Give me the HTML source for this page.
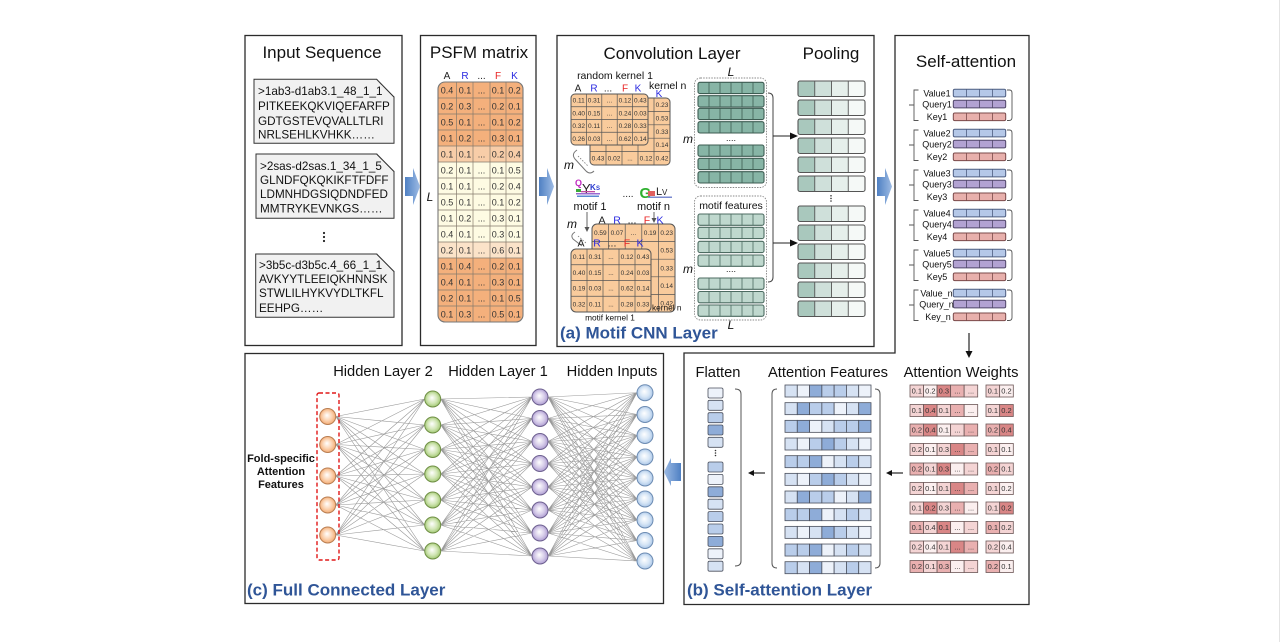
<!DOCTYPE html>
<html><head><meta charset="utf-8"><title>diagram</title>
<style>
html,body{margin:0;padding:0;background:#fff;width:1282px;height:642px;overflow:hidden}
svg{display:block}
text{font-family:"Liberation Sans",Arial,sans-serif}
.p0{fill:#fbefef}.p1{fill:#f4d4d4}.p2{fill:#e9b0b0}.p3{fill:#d98686}
.b0{fill:#edf2fa}.b1{fill:#d6e2f3}.b2{fill:#b9cdea}.b3{fill:#8eacd8}
.aw rect{stroke:#6b5656;stroke-width:0.8}
.af rect{stroke:#4a4f5c;stroke-width:0.8}
</style>
</head><body>
<svg xmlns="http://www.w3.org/2000/svg" xmlns:xlink="http://www.w3.org/1999/xlink" width="1282" height="642" viewBox="0 0 1282 642">
<defs>
<linearGradient id="ag" x1="0" y1="0" x2="1" y2="0"><stop offset="0" stop-color="#4f80c3"/><stop offset="1" stop-color="#9dbbe4"/></linearGradient>
<linearGradient id="agl" x1="1" y1="0" x2="0" y2="0"><stop offset="0" stop-color="#4f80c3"/><stop offset="1" stop-color="#9dbbe4"/></linearGradient>
<radialGradient id="go" cx="50%" cy="50%" r="55%" fx="45%" fy="42%"><stop offset="0" stop-color="#ffffff"/><stop offset="0.55" stop-color="#fbd2b0"/><stop offset="1" stop-color="#f2a468"/></radialGradient>
<radialGradient id="gg" cx="50%" cy="50%" r="55%" fx="45%" fy="42%"><stop offset="0" stop-color="#ffffff"/><stop offset="0.55" stop-color="#d2e6b6"/><stop offset="1" stop-color="#98c265"/></radialGradient>
<radialGradient id="gp" cx="50%" cy="50%" r="55%" fx="45%" fy="42%"><stop offset="0" stop-color="#ffffff"/><stop offset="0.55" stop-color="#d6cce9"/><stop offset="1" stop-color="#a693cd"/></radialGradient>
<radialGradient id="gb" cx="50%" cy="50%" r="55%" fx="45%" fy="42%"><stop offset="0" stop-color="#ffffff"/><stop offset="0.55" stop-color="#d7e6f6"/><stop offset="1" stop-color="#a3c1e5"/></radialGradient>
<clipPath id="pc"><rect x="438" y="82" width="85" height="240" rx="7"/></clipPath>
<g id="tr1"><rect width="66" height="11.3" rx="2" fill="#87b5a6"/><path d="M11 0V11.3M22 0V11.3M33 0V11.3M44 0V11.3M55 0V11.3" stroke="#3d5c52" stroke-width="0.8"/><rect width="66" height="11.3" rx="2" fill="none" stroke="#3d5c52" stroke-width="1.1"/></g>
<g id="tr2"><rect width="66" height="11.3" rx="2" fill="#bfd8ce"/><path d="M11 0V11.3M22 0V11.3M33 0V11.3M44 0V11.3M55 0V11.3" stroke="#4c6b61" stroke-width="0.8"/><rect width="66" height="11.3" rx="2" fill="none" stroke="#4c6b61" stroke-width="1.1"/></g>
<g id="pr"><rect x="0" width="16.75" height="15.5" fill="#a9c8bd"/><rect x="16.75" width="16.75" height="15.5" fill="#cfe0da"/><rect x="33.5" width="16.75" height="15.5" fill="#e6efeb"/><rect x="50.25" width="16.75" height="15.5" fill="#f5f9f7"/><path d="M16.75 0V15.5M33.5 0V15.5M50.25 0V15.5" stroke="#555" stroke-width="0.9"/><rect width="67" height="15.5" rx="2" fill="none" stroke="#555" stroke-width="1.1"/></g>
<g id="sag">
<rect x="953.3" y="89.3" width="52.4" height="7.6" rx="1.5" fill="#b5c8e8" stroke="#4d5d80" stroke-width="1"/>
<path d="M966.4 89.3V96.9M979.5 89.3V96.9M992.6 89.3V96.9" stroke="#4d5d80" stroke-width="0.8"/>
<rect x="953.3" y="100.3" width="52.4" height="7.6" rx="1.5" fill="#b2a2d2" stroke="#4f4568" stroke-width="1"/>
<path d="M966.4 100.3V107.9M979.5 100.3V107.9M992.6 100.3V107.9" stroke="#4f4568" stroke-width="0.8"/>
<rect x="953.3" y="113" width="52.4" height="7.6" rx="1.5" fill="#e8b0ac" stroke="#7a4a4a" stroke-width="1"/>
<path d="M966.4 113V120.6M979.5 113V120.6M992.6 113V120.6" stroke="#7a4a4a" stroke-width="0.8"/>
<path d="M918.5,90 H914 V120.5 H918.5 M914,105 H909" fill="none" stroke="#555" stroke-width="0.9"/>
<path d="M1007,90 H1009.5 Q1012,90 1012,93 V117.5 Q1012,120.5 1009,120.5 H1007" fill="none" stroke="#555" stroke-width="0.9"/>
</g>
</defs>
<rect width="1282" height="642" fill="#fff"/>
<line x1="1279.5" y1="0" x2="1279.5" y2="642" stroke="#e4e4e4"/>

<!-- frames -->
<g fill="none" stroke="#2b2b2b" stroke-width="1.3">
<rect x="245" y="35.5" width="157" height="310"/>
<rect x="420.5" y="35.5" width="115.5" height="310"/>
<rect x="557" y="35.5" width="317" height="311"/>
<path d="M684,353 H895 V35.5 H1029 V604.5 H684 Z"/>
<rect x="245" y="353.5" width="418.5" height="250"/>
</g>

<!-- block arrows -->
<path d="M405,177 H413 V168 L420,186.5 L413,205 V196 H405 Z" fill="url(#ag)"/>
<path d="M539,177 H547 V168 L554,186.5 L547,205 V196 H539 Z" fill="url(#ag)"/>
<path d="M877,177 H885 V168 L892,186.5 L885,205 V196 H877 Z" fill="url(#ag)"/>
<path d="M681,463 H671 V458 L664,472 L671,486 V481 H681 Z" fill="url(#agl)"/>

<!-- titles -->
<g font-size="17" fill="#111" text-anchor="middle">
<text x="322" y="58">Input Sequence</text>
<text x="479" y="58">PSFM matrix</text>
<text x="672" y="59">Convolution Layer</text>
<text x="831" y="59">Pooling</text>
<text x="966" y="67">Self-attention</text>
</g>
<g font-size="14.7" fill="#111" text-anchor="middle">
<text x="961" y="377">Attention Weights</text>
<text x="828" y="377">Attention Features</text>
<text x="718" y="377">Flatten</text>
<text x="383" y="376">Hidden Layer 2</text>
<text x="498" y="376">Hidden Layer 1</text>
<text x="612" y="376">Hidden Inputs</text>
</g>
<g font-size="17" font-weight="bold" fill="#2f5597">
<text x="560" y="338.5">(a) Motif CNN Layer</text>
<text x="687" y="595.5">(b) Self-attention Layer</text>
<text x="247" y="595.5">(c) Full Connected Layer</text>
</g>

<!-- Input sequences -->
<g stroke="#333" stroke-width="1" fill="#f1f1f1">
<path d="M254,79.3 H376.7 L394,97 V143.3 H254 Z"/>
<path d="M256,154 H376.7 L394,171.5 V218.3 H256 Z"/>
<path d="M255.7,254 H376.7 L394,271.5 V317.3 H255.7 Z"/>
</g>
<g font-size="11.7" fill="#111">
<text x="258" y="95">&gt;1ab3-d1ab3.1_48_1_1</text>
<text x="258" y="110">PITKEEKQKVIQEFARFP</text>
<text x="258" y="125">GDTGSTEVQVALLTLRI</text>
<text x="258" y="138.5">NRLSEHLKVHKK……</text>
<text x="260" y="170">&gt;2sas-d2sas.1_34_1_5</text>
<text x="260" y="184">GLNDFQKQKIKFTFDFF</text>
<text x="260" y="198">LDMNHDGSIQDNDFED</text>
<text x="260" y="212.5">MMTRYKEVNKGS……</text>
<text x="259" y="269">&gt;3b5c-d3b5c.4_66_1_1</text>
<text x="259" y="283">AVKYYTLEEIQKHNNSK</text>
<text x="259" y="297">STWLILHYKVYDLTKFL</text>
<text x="259" y="312">EEHPG……</text>
</g>
<g fill="#fff" stroke="#333" stroke-width="1">
<path d="M376.7,79.3 L394,97 L394,79.3 Z" stroke="none"/>
<path d="M376.7,79.3 L394,97"/>
<path d="M376.7,154 L394,171.5 L394,154 Z" stroke="none"/>
<path d="M376.7,154 L394,171.5"/>
<path d="M376.7,254 L394,271.5 L394,254 Z" stroke="none"/>
<path d="M376.7,254 L394,271.5"/>
</g>
<g fill="#222"><circle cx="324" cy="233" r="1.1"/><circle cx="324" cy="237" r="1.1"/><circle cx="324" cy="241" r="1.1"/></g>

<!-- PSFM -->
<g font-size="10" text-anchor="middle">
<text x="447" y="79" fill="#222">A</text>
<text x="465" y="79" fill="#2a2ae0">R</text>
<text x="481.5" y="79" fill="#222">...</text>
<text x="498" y="79" fill="#e82424">F</text>
<text x="514.5" y="79" fill="#2a2ae0">K</text>
</g>
<text x="430" y="201" font-size="12" font-style="italic" text-anchor="middle" fill="#111">L</text>
<g clip-path="url(#pc)">
<rect x="438" y="82" width="85" height="64" fill="#f4b07c"/>
<rect x="438" y="146" width="85" height="16" fill="#f8cda8"/>
<rect x="438" y="162" width="85" height="80" fill="#fefbe3"/>
<rect x="438" y="242" width="85" height="16" fill="#fbe3c9"/>
<rect x="438" y="258" width="85" height="64" fill="#f4b07c"/>
</g>
<path d="M438 98H523M438 114H523M438 130H523M438 146H523M438 162H523M438 178H523M438 194H523M438 210H523M438 226H523M438 242H523M438 258H523M438 274H523M438 290H523M438 306H523M456.5 82V322M473 82V322M490 82V322M506 82V322" stroke="#857a6c" stroke-width="0.7" fill="none"/>
<rect x="438" y="82" width="85" height="240" rx="7" fill="none" stroke="#777" stroke-width="1.1"/>
<g font-size="9" fill="#333" text-anchor="middle">
<g transform="translate(0,93.5)"><text x="447">0.4</text><text x="465">0.1</text><text x="481.5">...</text><text x="498">0.1</text><text x="514.5">0.2</text></g>
<g transform="translate(0,109.5)"><text x="447">0.2</text><text x="465">0.3</text><text x="481.5">...</text><text x="498">0.2</text><text x="514.5">0.1</text></g>
<g transform="translate(0,125.5)"><text x="447">0.5</text><text x="465">0.1</text><text x="481.5">...</text><text x="498">0.1</text><text x="514.5">0.2</text></g>
<g transform="translate(0,141.5)"><text x="447">0.1</text><text x="465">0.2</text><text x="481.5">...</text><text x="498">0.3</text><text x="514.5">0.1</text></g>
<g transform="translate(0,157.5)"><text x="447">0.1</text><text x="465">0.1</text><text x="481.5">...</text><text x="498">0.2</text><text x="514.5">0.4</text></g>
<g transform="translate(0,173.5)"><text x="447">0.2</text><text x="465">0.1</text><text x="481.5">...</text><text x="498">0.1</text><text x="514.5">0.5</text></g>
<g transform="translate(0,189.5)"><text x="447">0.1</text><text x="465">0.1</text><text x="481.5">...</text><text x="498">0.2</text><text x="514.5">0.4</text></g>
<g transform="translate(0,205.5)"><text x="447">0.5</text><text x="465">0.1</text><text x="481.5">...</text><text x="498">0.1</text><text x="514.5">0.2</text></g>
<g transform="translate(0,221.5)"><text x="447">0.1</text><text x="465">0.2</text><text x="481.5">...</text><text x="498">0.3</text><text x="514.5">0.1</text></g>
<g transform="translate(0,237.5)"><text x="447">0.4</text><text x="465">0.1</text><text x="481.5">...</text><text x="498">0.3</text><text x="514.5">0.1</text></g>
<g transform="translate(0,253.5)"><text x="447">0.2</text><text x="465">0.1</text><text x="481.5">...</text><text x="498">0.6</text><text x="514.5">0.1</text></g>
<g transform="translate(0,269.5)"><text x="447">0.1</text><text x="465">0.4</text><text x="481.5">...</text><text x="498">0.2</text><text x="514.5">0.1</text></g>
<g transform="translate(0,285.5)"><text x="447">0.4</text><text x="465">0.1</text><text x="481.5">...</text><text x="498">0.3</text><text x="514.5">0.1</text></g>
<g transform="translate(0,301.5)"><text x="447">0.2</text><text x="465">0.1</text><text x="481.5">...</text><text x="498">0.1</text><text x="514.5">0.5</text></g>
<g transform="translate(0,317.5)"><text x="447">0.1</text><text x="465">0.3</text><text x="481.5">...</text><text x="498">0.5</text><text x="514.5">0.1</text></g>
</g>

<!-- Convolution: random kernels -->
<text x="615" y="79" font-size="10.5" text-anchor="middle" fill="#111">random kernel 1</text>
<text x="649" y="89" font-size="10.5" fill="#111">kernel n</text>
<g font-size="10" text-anchor="middle">
<text x="578" y="91.5" fill="#222">A</text>
<text x="594" y="91.5" fill="#2a2ae0">R</text>
<text x="608" y="91.5" fill="#222">...</text>
<text x="625" y="91.5" fill="#e82424">F</text>
<text x="638" y="91.5" fill="#2a2ae0">K</text>
<text x="659" y="97" fill="#2a2ae0">K</text>
</g>
<!-- back random kernel -->
<rect x="590" y="98" width="80" height="67" rx="4" fill="#f9cb9c"/>
<path d="M590 111.4H670M590 124.8H670M590 138.2H670M590 151.6H670M606 98V165M622 98V165M638 98V165M654 98V165" stroke="#555" stroke-width="0.7"/>
<rect x="590" y="98" width="80" height="67" rx="4" fill="none" stroke="#555" stroke-width="1"/>
<g font-size="6.5" fill="#333" text-anchor="middle">
<text x="662" y="107">0.23</text><text x="662" y="120.4">0.53</text><text x="662" y="133.8">0.33</text><text x="662" y="147.2">0.14</text><text x="662" y="160.6">0.42</text>
<text x="598" y="160.6">0.43</text><text x="614" y="160.6">0.02</text><text x="630" y="160.6">...</text><text x="646" y="160.6">0.12</text>
</g>
<!-- front random kernel -->
<rect x="571" y="94" width="77" height="51" rx="4" fill="#f9cb9c"/>
<path d="M571 106.75H648M571 119.5H648M571 132.25H648M586.4 94V145M601.8 94V145M617.2 94V145M632.6 94V145" stroke="#555" stroke-width="0.7"/>
<rect x="571" y="94" width="77" height="51" rx="4" fill="none" stroke="#555" stroke-width="1"/>
<g font-size="6.5" fill="#333" text-anchor="middle">
<g transform="translate(0,102.7)"><text x="578.7">0.11</text><text x="594.1">0.31</text><text x="609.5">...</text><text x="624.9">0.12</text><text x="640.3">0.43</text></g>
<g transform="translate(0,115.4)"><text x="578.7">0.40</text><text x="594.1">0.15</text><text x="609.5">...</text><text x="624.9">0.24</text><text x="640.3">0.03</text></g>
<g transform="translate(0,128.2)"><text x="578.7">0.32</text><text x="594.1">0.11</text><text x="609.5">...</text><text x="624.9">0.28</text><text x="640.3">0.33</text></g>
<g transform="translate(0,140.9)"><text x="578.7">0.26</text><text x="594.1">0.03</text><text x="609.5">...</text><text x="624.9">0.62</text><text x="640.3">0.14</text></g>
</g>
<path d="M577,150 Q571,154 575,159 L586,171 Q590,175 594,171" fill="none" stroke="#777" stroke-width="1"/>
<path d="M578,156 L588,166" stroke="#777" stroke-width="0.8" stroke-dasharray="1.5,1.5"/>
<text x="569" y="169" font-size="12" font-style="italic" text-anchor="middle" fill="#111">m</text>

<!-- motif logos -->
<text x="575" y="186" font-size="9" font-weight="bold" fill="#c02ac0">Q</text>
<text x="582" y="193" font-size="13" fill="#222">Y</text>
<text x="590" y="190" font-size="8" font-weight="bold" fill="#2a3ad0">K</text>
<text x="596" y="190" font-size="6" font-weight="bold" fill="#2a3ad0">S</text>
<rect x="576" y="189" width="5" height="3" fill="#3aa83a"/>
<rect x="576" y="193" width="24" height="1.5" fill="#9a6ad0"/>
<rect x="577" y="195.5" width="22" height="1.5" fill="#5a8ad0"/>
<rect x="581" y="191" width="14" height="1.3" fill="#c04aa0"/>
<text x="628" y="197" font-size="10" text-anchor="middle" fill="#222">....</text>
<text x="639.5" y="198" font-size="15" font-weight="bold" fill="#2fb02f">G</text>
<rect x="648" y="191" width="7" height="5" fill="#e06060"/>
<text x="656" y="195" font-size="11" fill="#222">L</text>
<text x="662" y="195" font-size="8" fill="#222">V</text>
<rect x="648" y="196.5" width="24" height="1.5" fill="#7a8ad0"/>
<text x="590" y="210" font-size="11" text-anchor="middle" fill="#111">motif 1</text>
<text x="653.5" y="210" font-size="11" text-anchor="middle" fill="#111">motif n</text>
<g stroke="#555" stroke-width="0.9" fill="#555">
<line x1="587" y1="212" x2="587" y2="228"/>
<polygon points="584.5,227 589.5,227 587,232" stroke="none"/>
<line x1="654" y1="212" x2="654" y2="219"/>
<polygon points="651.5,218 656.5,218 654,223" stroke="none"/>
</g>
<text x="572" y="228" font-size="12" font-style="italic" text-anchor="middle" fill="#111">m</text>
<path d="M575,232 Q570,235 573,239 L582,246" fill="none" stroke="#777" stroke-width="1"/>
<path d="M578,236 L586,243" stroke="#777" stroke-width="0.8" stroke-dasharray="1.5,1.5"/>
<g font-size="10.5" text-anchor="middle">
<text x="602" y="223.5" fill="#222">A</text>
<text x="617" y="223.5" fill="#2a2ae0">R</text>
<text x="632" y="223.5" fill="#222">...</text>
<text x="647" y="223.5" fill="#e82424">F</text>
<text x="660" y="223.5" fill="#2a2ae0">K</text>
</g>
<!-- back motif kernel -->
<rect x="592" y="224" width="83" height="88" rx="5" fill="#f9cb9c"/>
<path d="M592 241.6H675M592 259.2H675M592 276.8H675M592 294.4H675M608.6 224V312M625.2 224V312M641.8 224V312M658.4 224V312" stroke="#555" stroke-width="0.7"/>
<rect x="592" y="224" width="83" height="88" rx="5" fill="none" stroke="#555" stroke-width="1"/>
<g font-size="6.5" fill="#333" text-anchor="middle">
<text x="600.3" y="235">0.59</text><text x="616.9" y="235">0.07</text><text x="633.5" y="235">...</text><text x="650.1" y="235">0.19</text><text x="666.7" y="235">0.23</text>
<text x="666.7" y="252.7">0.53</text><text x="666.7" y="270.3">0.33</text><text x="666.7" y="287.9">0.14</text><text x="666.7" y="305.5">0.42</text>
</g>
<g font-size="10.5" text-anchor="middle">
<text x="581" y="246.5" fill="#222">A</text>
<text x="597" y="246.5" fill="#2a2ae0">R</text>
<text x="612" y="246.5" fill="#222">...</text>
<text x="627" y="246.5" fill="#e82424">F</text>
<text x="640" y="246.5" fill="#2a2ae0">K</text>
</g>
<!-- front motif kernel -->
<rect x="571" y="249" width="80" height="63" rx="5" fill="#f9cb9c"/>
<path d="M571 264.75H651M571 280.5H651M571 296.25H651M587 249V312M603 249V312M619 249V312M635 249V312" stroke="#555" stroke-width="0.7"/>
<rect x="571" y="249" width="80" height="63" rx="5" fill="none" stroke="#555" stroke-width="1"/>
<g font-size="6.5" fill="#333" text-anchor="middle">
<g transform="translate(0,259.2)"><text x="579">0.11</text><text x="595">0.31</text><text x="611">...</text><text x="627">0.12</text><text x="643">0.43</text></g>
<g transform="translate(0,274.9)"><text x="579">0.40</text><text x="595">0.15</text><text x="611">...</text><text x="627">0.24</text><text x="643">0.03</text></g>
<g transform="translate(0,290.7)"><text x="579">0.19</text><text x="595">0.03</text><text x="611">...</text><text x="627">0.62</text><text x="643">0.14</text></g>
<g transform="translate(0,306.4)"><text x="579">0.32</text><text x="595">0.11</text><text x="611">...</text><text x="627">0.28</text><text x="643">0.33</text></g>
</g>
<text x="610" y="320.5" font-size="8.3" text-anchor="middle" fill="#111">motif kernel 1</text>
<text x="652" y="310.5" font-size="8.3" fill="#111">kernel n</text>

<!-- feature maps -->
<rect x="694.5" y="78" width="72" height="109.5" rx="6" fill="none" stroke="#888" stroke-width="0.9" stroke-dasharray="1.5,1.2"/>
<rect x="694.5" y="196" width="72" height="124" rx="6" fill="none" stroke="#888" stroke-width="0.9" stroke-dasharray="1.5,1.2"/>
<use href="#tr1" xlink:href="#tr1" x="698" y="82.3"/>
<use href="#tr1" xlink:href="#tr1" x="698" y="95.7"/>
<use href="#tr1" xlink:href="#tr1" x="698" y="108.3"/>
<use href="#tr1" xlink:href="#tr1" x="698" y="121.7"/>
<use href="#tr1" xlink:href="#tr1" x="698" y="145"/>
<use href="#tr1" xlink:href="#tr1" x="698" y="158.3"/>
<use href="#tr1" xlink:href="#tr1" x="698" y="171.7"/>
<use href="#tr2" xlink:href="#tr2" x="698" y="214"/>
<use href="#tr2" xlink:href="#tr2" x="698" y="227.3"/>
<use href="#tr2" xlink:href="#tr2" x="698" y="241.3"/>
<use href="#tr2" xlink:href="#tr2" x="698" y="255"/>
<use href="#tr2" xlink:href="#tr2" x="698" y="278"/>
<use href="#tr2" xlink:href="#tr2" x="698" y="291.5"/>
<use href="#tr2" xlink:href="#tr2" x="698" y="305"/>
<g font-size="12" font-style="italic" fill="#111" text-anchor="middle">
<text x="731" y="76">L</text>
<text x="731" y="329">L</text>
<text x="688" y="143">m</text>
<text x="688" y="273">m</text>
</g>
<text x="731" y="209" font-size="10.5" text-anchor="middle" fill="#111">motif  features</text>
<text x="731" y="141" font-size="9" text-anchor="middle" fill="#222">....</text>
<text x="731" y="272" font-size="9" text-anchor="middle" fill="#222">....</text>
<path d="M768,93 Q773,93 773,98 V277 Q773,282 768,282" fill="none" stroke="#444" stroke-width="1"/>
<g stroke="#222" stroke-width="1" fill="#111">
<line x1="773" y1="136" x2="791" y2="136"/><polygon points="798,136 790,132.5 790,139.5" stroke="none"/>
<line x1="773" y1="243" x2="791" y2="243"/><polygon points="798,243 790,239.5 790,246.5" stroke="none"/>
</g>
<!-- pooling -->
<use href="#pr" xlink:href="#pr" x="798" y="81"/>
<use href="#pr" xlink:href="#pr" x="798" y="100"/>
<use href="#pr" xlink:href="#pr" x="798" y="119"/>
<use href="#pr" xlink:href="#pr" x="798" y="138"/>
<use href="#pr" xlink:href="#pr" x="798" y="157"/>
<use href="#pr" xlink:href="#pr" x="798" y="176"/>
<use href="#pr" xlink:href="#pr" x="798" y="206"/>
<use href="#pr" xlink:href="#pr" x="798" y="225"/>
<use href="#pr" xlink:href="#pr" x="798" y="244"/>
<use href="#pr" xlink:href="#pr" x="798" y="263"/>
<use href="#pr" xlink:href="#pr" x="798" y="282"/>
<use href="#pr" xlink:href="#pr" x="798" y="301"/>
<g fill="#333"><circle cx="831" cy="195.8" r="0.8"/><circle cx="831" cy="198.4" r="0.8"/><circle cx="831" cy="201" r="0.8"/></g>

<!-- Self attention -->
<use href="#sag" xlink:href="#sag" x="0" y="0"/>
<use href="#sag" xlink:href="#sag" x="0" y="40"/>
<use href="#sag" xlink:href="#sag" x="0" y="80"/>
<use href="#sag" xlink:href="#sag" x="0" y="120"/>
<use href="#sag" xlink:href="#sag" x="0" y="160"/>
<use href="#sag" xlink:href="#sag" x="0" y="200"/>
<g font-size="9" fill="#111" text-anchor="middle">
<text x="937" y="96.3">Value1</text><text x="937" y="107.3">Query1</text><text x="937" y="120">Key1</text>
<text x="937" y="136.3">Value2</text><text x="937" y="147.3">Query2</text><text x="937" y="160">Key2</text>
<text x="937" y="176.3">Value3</text><text x="937" y="187.3">Query3</text><text x="937" y="200">Key3</text>
<text x="937" y="216.3">Value4</text><text x="937" y="227.3">Query4</text><text x="937" y="240">Key4</text>
<text x="937" y="256.3">Value5</text><text x="937" y="267.3">Query5</text><text x="937" y="280">Key5</text>
<text x="936.5" y="296.3">Value_n</text><text x="936.5" y="307.3">Query_n</text><text x="938" y="320">Key_n</text>
</g>
<g stroke="#111" stroke-width="1.1" fill="#111">
<line x1="969" y1="333" x2="969" y2="352"/><polygon points="965.5,351 972.5,351 969,358" stroke="none"/>
<line x1="903" y1="473" x2="891" y2="473"/><polygon points="886,473 892,470 892,476" stroke="none"/>
<line x1="765" y1="473" x2="753" y2="473"/><polygon points="748,473 754,470 754,476" stroke="none"/>
</g>

<!-- Attention weights cells -->
<g class="aw">
<g transform="translate(0,385)"><rect x="910" width="13.54" height="12" class="p1"/><rect x="923.54" width="13.54" height="12" class="p0"/><rect x="937.08" width="13.54" height="12" class="p3"/><rect x="950.62" width="13.54" height="12" class="p2"/><rect x="964.16" width="13.54" height="12" class="p1"/><rect x="986" width="13.65" height="12" class="p1"/><rect x="999.65" width="13.65" height="12" class="p0"/></g>
<g transform="translate(0,404.5)"><rect x="910" width="13.54" height="12" class="p1"/><rect x="923.54" width="13.54" height="12" class="p3"/><rect x="937.08" width="13.54" height="12" class="p1"/><rect x="950.62" width="13.54" height="12" class="p2"/><rect x="964.16" width="13.54" height="12" class="p0"/><rect x="986" width="13.65" height="12" class="p1"/><rect x="999.65" width="13.65" height="12" class="p3"/></g>
<g transform="translate(0,424)"><rect x="910" width="13.54" height="12" class="p2"/><rect x="923.54" width="13.54" height="12" class="p3"/><rect x="937.08" width="13.54" height="12" class="p0"/><rect x="950.62" width="13.54" height="12" class="p1"/><rect x="964.16" width="13.54" height="12" class="p2"/><rect x="986" width="13.65" height="12" class="p2"/><rect x="999.65" width="13.65" height="12" class="p3"/></g>
<g transform="translate(0,443.5)"><rect x="910" width="13.54" height="12" class="p1"/><rect x="923.54" width="13.54" height="12" class="p0"/><rect x="937.08" width="13.54" height="12" class="p1"/><rect x="950.62" width="13.54" height="12" class="p3"/><rect x="964.16" width="13.54" height="12" class="p2"/><rect x="986" width="13.65" height="12" class="p1"/><rect x="999.65" width="13.65" height="12" class="p0"/></g>
<g transform="translate(0,463)"><rect x="910" width="13.54" height="12" class="p2"/><rect x="923.54" width="13.54" height="12" class="p1"/><rect x="937.08" width="13.54" height="12" class="p3"/><rect x="950.62" width="13.54" height="12" class="p0"/><rect x="964.16" width="13.54" height="12" class="p1"/><rect x="986" width="13.65" height="12" class="p2"/><rect x="999.65" width="13.65" height="12" class="p1"/></g>
<g transform="translate(0,482.5)"><rect x="910" width="13.54" height="12" class="p1"/><rect x="923.54" width="13.54" height="12" class="p0"/><rect x="937.08" width="13.54" height="12" class="p1"/><rect x="950.62" width="13.54" height="12" class="p3"/><rect x="964.16" width="13.54" height="12" class="p2"/><rect x="986" width="13.65" height="12" class="p1"/><rect x="999.65" width="13.65" height="12" class="p0"/></g>
<g transform="translate(0,502)"><rect x="910" width="13.54" height="12" class="p1"/><rect x="923.54" width="13.54" height="12" class="p3"/><rect x="937.08" width="13.54" height="12" class="p1"/><rect x="950.62" width="13.54" height="12" class="p2"/><rect x="964.16" width="13.54" height="12" class="p0"/><rect x="986" width="13.65" height="12" class="p1"/><rect x="999.65" width="13.65" height="12" class="p3"/></g>
<g transform="translate(0,521.5)"><rect x="910" width="13.54" height="12" class="p2"/><rect x="923.54" width="13.54" height="12" class="p1"/><rect x="937.08" width="13.54" height="12" class="p3"/><rect x="950.62" width="13.54" height="12" class="p0"/><rect x="964.16" width="13.54" height="12" class="p1"/><rect x="986" width="13.65" height="12" class="p2"/><rect x="999.65" width="13.65" height="12" class="p1"/></g>
<g transform="translate(0,541)"><rect x="910" width="13.54" height="12" class="p1"/><rect x="923.54" width="13.54" height="12" class="p0"/><rect x="937.08" width="13.54" height="12" class="p1"/><rect x="950.62" width="13.54" height="12" class="p3"/><rect x="964.16" width="13.54" height="12" class="p2"/><rect x="986" width="13.65" height="12" class="p1"/><rect x="999.65" width="13.65" height="12" class="p0"/></g>
<g transform="translate(0,560.5)"><rect x="910" width="13.54" height="12" class="p2"/><rect x="923.54" width="13.54" height="12" class="p1"/><rect x="937.08" width="13.54" height="12" class="p2"/><rect x="950.62" width="13.54" height="12" class="p0"/><rect x="964.16" width="13.54" height="12" class="p1"/><rect x="986" width="13.65" height="12" class="p2"/><rect x="999.65" width="13.65" height="12" class="p0"/></g>
</g>
<g font-size="7.5" fill="#333" text-anchor="middle">
<g transform="translate(0,393.7)"><text x="916.8">0.1</text><text x="930.3">0.2</text><text x="943.9">0.3</text><text x="957.4">...</text><text x="971">...</text><text x="992.8">0.1</text><text x="1006.5">0.2</text></g>
<g transform="translate(0,413.2)"><text x="916.8">0.1</text><text x="930.3">0.4</text><text x="943.9">0.1</text><text x="957.4">...</text><text x="971">...</text><text x="992.8">0.1</text><text x="1006.5">0.2</text></g>
<g transform="translate(0,432.7)"><text x="916.8">0.2</text><text x="930.3">0.4</text><text x="943.9">0.1</text><text x="957.4">...</text><text x="971">...</text><text x="992.8">0.2</text><text x="1006.5">0.4</text></g>
<g transform="translate(0,452.2)"><text x="916.8">0.2</text><text x="930.3">0.1</text><text x="943.9">0.3</text><text x="957.4">...</text><text x="971">...</text><text x="992.8">0.1</text><text x="1006.5">0.1</text></g>
<g transform="translate(0,471.7)"><text x="916.8">0.2</text><text x="930.3">0.1</text><text x="943.9">0.3</text><text x="957.4">...</text><text x="971">...</text><text x="992.8">0.2</text><text x="1006.5">0.1</text></g>
<g transform="translate(0,491.2)"><text x="916.8">0.2</text><text x="930.3">0.1</text><text x="943.9">0.1</text><text x="957.4">...</text><text x="971">...</text><text x="992.8">0.1</text><text x="1006.5">0.2</text></g>
<g transform="translate(0,510.7)"><text x="916.8">0.1</text><text x="930.3">0.2</text><text x="943.9">0.3</text><text x="957.4">...</text><text x="971">...</text><text x="992.8">0.1</text><text x="1006.5">0.2</text></g>
<g transform="translate(0,530.2)"><text x="916.8">0.1</text><text x="930.3">0.4</text><text x="943.9">0.1</text><text x="957.4">...</text><text x="971">...</text><text x="992.8">0.1</text><text x="1006.5">0.2</text></g>
<g transform="translate(0,549.7)"><text x="916.8">0.2</text><text x="930.3">0.4</text><text x="943.9">0.1</text><text x="957.4">...</text><text x="971">...</text><text x="992.8">0.2</text><text x="1006.5">0.4</text></g>
<g transform="translate(0,569.2)"><text x="916.8">0.2</text><text x="930.3">0.1</text><text x="943.9">0.3</text><text x="957.4">...</text><text x="971">...</text><text x="992.8">0.2</text><text x="1006.5">0.1</text></g>
</g>

<!-- Attention features -->
<g class="af">
<g transform="translate(0,385)"><rect x="785" width="12.29" height="12" class="b1"/><rect x="797.29" width="12.29" height="12" class="b0"/><rect x="809.57" width="12.29" height="12" class="b3"/><rect x="821.86" width="12.29" height="12" class="b2"/><rect x="834.14" width="12.29" height="12" class="b2"/><rect x="846.43" width="12.29" height="12" class="b1"/><rect x="858.71" width="12.29" height="12" class="b0"/></g>
<g transform="translate(0,402.67)"><rect x="785" width="12.29" height="12" class="b1"/><rect x="797.29" width="12.29" height="12" class="b3"/><rect x="809.57" width="12.29" height="12" class="b2"/><rect x="821.86" width="12.29" height="12" class="b2"/><rect x="834.14" width="12.29" height="12" class="b0"/><rect x="846.43" width="12.29" height="12" class="b1"/><rect x="858.71" width="12.29" height="12" class="b3"/></g>
<g transform="translate(0,420.34)"><rect x="785" width="12.29" height="12" class="b2"/><rect x="797.29" width="12.29" height="12" class="b3"/><rect x="809.57" width="12.29" height="12" class="b0"/><rect x="821.86" width="12.29" height="12" class="b1"/><rect x="834.14" width="12.29" height="12" class="b2"/><rect x="846.43" width="12.29" height="12" class="b2"/><rect x="858.71" width="12.29" height="12" class="b3"/></g>
<g transform="translate(0,438.01)"><rect x="785" width="12.29" height="12" class="b1"/><rect x="797.29" width="12.29" height="12" class="b0"/><rect x="809.57" width="12.29" height="12" class="b2"/><rect x="821.86" width="12.29" height="12" class="b3"/><rect x="834.14" width="12.29" height="12" class="b2"/><rect x="846.43" width="12.29" height="12" class="b1"/><rect x="858.71" width="12.29" height="12" class="b0"/></g>
<g transform="translate(0,455.68)"><rect x="785" width="12.29" height="12" class="b2"/><rect x="797.29" width="12.29" height="12" class="b2"/><rect x="809.57" width="12.29" height="12" class="b3"/><rect x="821.86" width="12.29" height="12" class="b0"/><rect x="834.14" width="12.29" height="12" class="b1"/><rect x="846.43" width="12.29" height="12" class="b2"/><rect x="858.71" width="12.29" height="12" class="b1"/></g>
<g transform="translate(0,473.35)"><rect x="785" width="12.29" height="12" class="b1"/><rect x="797.29" width="12.29" height="12" class="b0"/><rect x="809.57" width="12.29" height="12" class="b2"/><rect x="821.86" width="12.29" height="12" class="b3"/><rect x="834.14" width="12.29" height="12" class="b2"/><rect x="846.43" width="12.29" height="12" class="b1"/><rect x="858.71" width="12.29" height="12" class="b0"/></g>
<g transform="translate(0,491.02)"><rect x="785" width="12.29" height="12" class="b1"/><rect x="797.29" width="12.29" height="12" class="b3"/><rect x="809.57" width="12.29" height="12" class="b2"/><rect x="821.86" width="12.29" height="12" class="b2"/><rect x="834.14" width="12.29" height="12" class="b0"/><rect x="846.43" width="12.29" height="12" class="b1"/><rect x="858.71" width="12.29" height="12" class="b3"/></g>
<g transform="translate(0,508.69)"><rect x="785" width="12.29" height="12" class="b2"/><rect x="797.29" width="12.29" height="12" class="b2"/><rect x="809.57" width="12.29" height="12" class="b3"/><rect x="821.86" width="12.29" height="12" class="b0"/><rect x="834.14" width="12.29" height="12" class="b1"/><rect x="846.43" width="12.29" height="12" class="b2"/><rect x="858.71" width="12.29" height="12" class="b1"/></g>
<g transform="translate(0,526.36)"><rect x="785" width="12.29" height="12" class="b1"/><rect x="797.29" width="12.29" height="12" class="b0"/><rect x="809.57" width="12.29" height="12" class="b1"/><rect x="821.86" width="12.29" height="12" class="b3"/><rect x="834.14" width="12.29" height="12" class="b2"/><rect x="846.43" width="12.29" height="12" class="b1"/><rect x="858.71" width="12.29" height="12" class="b0"/></g>
<g transform="translate(0,544.03)"><rect x="785" width="12.29" height="12" class="b2"/><rect x="797.29" width="12.29" height="12" class="b2"/><rect x="809.57" width="12.29" height="12" class="b3"/><rect x="821.86" width="12.29" height="12" class="b0"/><rect x="834.14" width="12.29" height="12" class="b1"/><rect x="846.43" width="12.29" height="12" class="b2"/><rect x="858.71" width="12.29" height="12" class="b1"/></g>
<g transform="translate(0,561.7)"><rect x="785" width="12.29" height="12" class="b2"/><rect x="797.29" width="12.29" height="12" class="b1"/><rect x="809.57" width="12.29" height="12" class="b3"/><rect x="821.86" width="12.29" height="12" class="b0"/><rect x="834.14" width="12.29" height="12" class="b1"/><rect x="846.43" width="12.29" height="12" class="b2"/><rect x="858.71" width="12.29" height="12" class="b1"/></g>
<!-- flatten -->
<rect x="708" y="388" width="15" height="10" rx="1.5" class="b0"/>
<rect x="708" y="400.3" width="15" height="10" rx="1.5" class="b1"/>
<rect x="708" y="412.7" width="15" height="10" rx="1.5" class="b2"/>
<rect x="708" y="425" width="15" height="10" rx="1.5" class="b3"/>
<rect x="708" y="437.3" width="15" height="10" rx="1.5" class="b1"/>
<rect x="708" y="462" width="15" height="10" rx="1.5" class="b2"/>
<rect x="708" y="474.4" width="15" height="10" rx="1.5" class="b0"/>
<rect x="708" y="486.8" width="15" height="10" rx="1.5" class="b3"/>
<rect x="708" y="499.2" width="15" height="10" rx="1.5" class="b1"/>
<rect x="708" y="511.6" width="15" height="10" rx="1.5" class="b2"/>
<rect x="708" y="524" width="15" height="10" rx="1.5" class="b2"/>
<rect x="708" y="536.4" width="15" height="10" rx="1.5" class="b3"/>
<rect x="708" y="548.8" width="15" height="10" rx="1.5" class="b0"/>
<rect x="708" y="561.2" width="15" height="10" rx="1.5" class="b1"/>
</g>
<g fill="none" stroke="#555" stroke-width="1">
<path d="M777,389 Q772,389 772,394 V563 Q772,568 777,568"/>
<path d="M875,389 Q880,389 880,394 V563 Q880,568 875,568"/>
<path d="M735,389 Q741,389 741,394 V561 Q741,566 735,566"/>
</g>
<g fill="#333"><circle cx="715.5" cy="450.5" r="0.8"/><circle cx="715.5" cy="453" r="0.8"/><circle cx="715.5" cy="455.5" r="0.8"/></g>

<!-- network lines -->
<g fill="none" stroke="#9a9a9a" stroke-width="0.6">
<path d="M335.7 416.5L424.7 399M335.7 416.5L424.7 425M335.7 416.5L424.7 449.5M335.7 416.5L424.7 474M335.7 416.5L424.7 500M335.7 416.5L424.7 525M335.7 416.5L424.7 551M335.7 444.5L424.7 399M335.7 444.5L424.7 425M335.7 444.5L424.7 449.5M335.7 444.5L424.7 474M335.7 444.5L424.7 500M335.7 444.5L424.7 525M335.7 444.5L424.7 551M335.7 476L424.7 399M335.7 476L424.7 425M335.7 476L424.7 449.5M335.7 476L424.7 474M335.7 476L424.7 500M335.7 476L424.7 525M335.7 476L424.7 551M335.7 505L424.7 399M335.7 505L424.7 425M335.7 505L424.7 449.5M335.7 505L424.7 474M335.7 505L424.7 500M335.7 505L424.7 525M335.7 505L424.7 551M335.7 535L424.7 399M335.7 535L424.7 425M335.7 535L424.7 449.5M335.7 535L424.7 474M335.7 535L424.7 500M335.7 535L424.7 525M335.7 535L424.7 551"/>
<path d="M440.7 399L532 397M440.7 399L532 418.5M440.7 399L532 441.5M440.7 399L532 463.5M440.7 399L532 487M440.7 399L532 510M440.7 399L532 533M440.7 399L532 556M440.7 425L532 397M440.7 425L532 418.5M440.7 425L532 441.5M440.7 425L532 463.5M440.7 425L532 487M440.7 425L532 510M440.7 425L532 533M440.7 425L532 556M440.7 449.5L532 397M440.7 449.5L532 418.5M440.7 449.5L532 441.5M440.7 449.5L532 463.5M440.7 449.5L532 487M440.7 449.5L532 510M440.7 449.5L532 533M440.7 449.5L532 556M440.7 474L532 397M440.7 474L532 418.5M440.7 474L532 441.5M440.7 474L532 463.5M440.7 474L532 487M440.7 474L532 510M440.7 474L532 533M440.7 474L532 556M440.7 500L532 397M440.7 500L532 418.5M440.7 500L532 441.5M440.7 500L532 463.5M440.7 500L532 487M440.7 500L532 510M440.7 500L532 533M440.7 500L532 556M440.7 525L532 397M440.7 525L532 418.5M440.7 525L532 441.5M440.7 525L532 463.5M440.7 525L532 487M440.7 525L532 510M440.7 525L532 533M440.7 525L532 556M440.7 551L532 397M440.7 551L532 418.5M440.7 551L532 441.5M440.7 551L532 463.5M440.7 551L532 487M440.7 551L532 510M440.7 551L532 533M440.7 551L532 556"/>
<path d="M548 397L637 392.7M548 397L637 414.5M548 397L637 435.5M548 397L637 457M548 397L637 478M548 397L637 499M548 397L637 520M548 397L637 540.5M548 397L637 561M548 418.5L637 392.7M548 418.5L637 414.5M548 418.5L637 435.5M548 418.5L637 457M548 418.5L637 478M548 418.5L637 499M548 418.5L637 520M548 418.5L637 540.5M548 418.5L637 561M548 441.5L637 392.7M548 441.5L637 414.5M548 441.5L637 435.5M548 441.5L637 457M548 441.5L637 478M548 441.5L637 499M548 441.5L637 520M548 441.5L637 540.5M548 441.5L637 561M548 463.5L637 392.7M548 463.5L637 414.5M548 463.5L637 435.5M548 463.5L637 457M548 463.5L637 478M548 463.5L637 499M548 463.5L637 520M548 463.5L637 540.5M548 463.5L637 561M548 487L637 392.7M548 487L637 414.5M548 487L637 435.5M548 487L637 457M548 487L637 478M548 487L637 499M548 487L637 520M548 487L637 540.5M548 487L637 561M548 510L637 392.7M548 510L637 414.5M548 510L637 435.5M548 510L637 457M548 510L637 478M548 510L637 499M548 510L637 520M548 510L637 540.5M548 510L637 561M548 533L637 392.7M548 533L637 414.5M548 533L637 435.5M548 533L637 457M548 533L637 478M548 533L637 499M548 533L637 520M548 533L637 540.5M548 533L637 561M548 556L637 392.7M548 556L637 414.5M548 556L637 435.5M548 556L637 457M548 556L637 478M548 556L637 499M548 556L637 520M548 556L637 540.5M548 556L637 561"/>
</g>
<!-- nodes -->
<g fill="url(#go)" stroke="#b97e52" stroke-width="1">
<circle cx="327.7" cy="416.5" r="8"/><circle cx="327.7" cy="444.5" r="8"/><circle cx="327.7" cy="476" r="8"/><circle cx="327.7" cy="505" r="8"/><circle cx="327.7" cy="535" r="8"/>
</g>
<g fill="url(#gg)" stroke="#6f8f45" stroke-width="1">
<circle cx="432.7" cy="399" r="8"/><circle cx="432.7" cy="425" r="8"/><circle cx="432.7" cy="449.5" r="8"/><circle cx="432.7" cy="474" r="8"/><circle cx="432.7" cy="500" r="8"/><circle cx="432.7" cy="525" r="8"/><circle cx="432.7" cy="551" r="8"/>
</g>
<g fill="url(#gp)" stroke="#6e6190" stroke-width="1">
<circle cx="540" cy="397" r="8"/><circle cx="540" cy="418.5" r="8"/><circle cx="540" cy="441.5" r="8"/><circle cx="540" cy="463.5" r="8"/><circle cx="540" cy="487" r="8"/><circle cx="540" cy="510" r="8"/><circle cx="540" cy="533" r="8"/><circle cx="540" cy="556" r="8"/>
</g>
<g fill="url(#gb)" stroke="#6c8bb2" stroke-width="1">
<circle cx="645" cy="392.7" r="8"/><circle cx="645" cy="414.5" r="8"/><circle cx="645" cy="435.5" r="8"/><circle cx="645" cy="457" r="8"/><circle cx="645" cy="478" r="8"/><circle cx="645" cy="499" r="8"/><circle cx="645" cy="520" r="8"/><circle cx="645" cy="540.5" r="8"/><circle cx="645" cy="561" r="8"/>
</g>
<rect x="317" y="393" width="22" height="167" rx="2" fill="none" stroke="#e01818" stroke-width="1.4" stroke-dasharray="4,2.5"/>
<g font-size="11" font-weight="bold" fill="#111" text-anchor="middle">
<text x="281" y="462">Fold-specific</text>
<text x="281" y="475">Attention</text>
<text x="281" y="488">Features</text>
</g>
</svg>
</body></html>
